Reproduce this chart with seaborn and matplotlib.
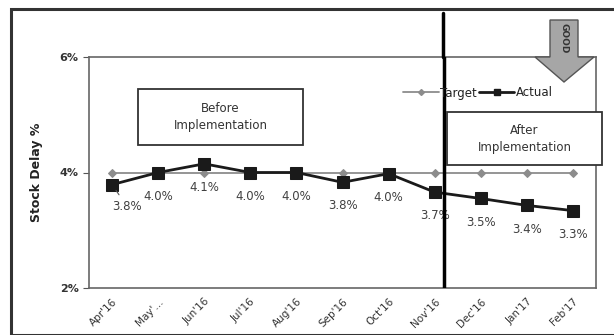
import matplotlib
matplotlib.use("Agg")
import matplotlib.pyplot as plt
import matplotlib.patches as mpatches
from matplotlib.lines import Line2D
import seaborn as sns
import pandas as pd

months = ["Apr'16", "May'…", "Jun'16", "Jul'16", "Aug'16", "Sep'16",
          "Oct'16", "Nov'16", "Dec'16", "Jan'17", "Feb'17"]
actual = [3.79, 4.0, 4.15, 4.0, 4.0, 3.83, 3.98, 3.66, 3.55, 3.43, 3.34]
actual_labels = ["3.8%", "4.0%", "4.1%", "4.0%", "4.0%", "3.8%",
                 "4.0%", "3.7%", "3.5%", "3.4%", "3.3%"]
target = [4.0] * 11
yticks = [2, 4, 6]
ytick_labels = ["2%", "4%", "6%"]

sns.set_style("white")
plt.rcParams['font.family'] = ['DejaVu Sans']

fig = plt.figure(figsize=(6.14, 3.35), dpi=100)
ax = fig.add_axes([89/614, 47/335, (596-89)/614, (288-57)/335])

df = pd.DataFrame({"x": list(range(len(months))), "Actual": actual, "Target": target})

sns.lineplot(data=df, x="x", y="Target", ax=ax, color="#8c8c8c", lw=1.3,
             marker="D", markersize=4, markeredgecolor="#8c8c8c", zorder=2)
sns.lineplot(data=df, x="x", y="Actual", ax=ax, color="#1a1a1a", lw=2,
             marker="s", markersize=8, markeredgecolor="#1a1a1a", zorder=3)

ax.set_xlim(-0.5, len(months) - 0.5)
ax.set_ylim(2, 6)
ax.set_yticks(yticks)
ax.set_yticklabels(ytick_labels, fontsize=8, fontweight="bold", color="#333333")
ax.set_xticks(range(len(months)))
ax.set_xticklabels(months, rotation=45, ha="right", rotation_mode="anchor",
                   fontsize=7.5, color="#333333")
ax.set_xticks([i - 0.5 for i in range(len(months) + 1)], minor=True)
ax.tick_params(axis="x", which="major", length=0, pad=6)
ax.tick_params(axis="x", which="minor", length=4, color="#555555", direction="out")
ax.tick_params(axis="y", length=4, color="#555555", direction="out", left=True)
ax.set_xlabel("")
ax.set_ylabel("Stock Delay %", fontsize=9, fontweight="bold", color="#222222", labelpad=12)
for s in ax.spines.values():
    s.set_color("#666666")
    s.set_linewidth(1.2)

# data labels
for i, (v, lab) in enumerate(zip(actual, actual_labels)):
    if i == 0:
        ax.annotate(lab, (i, v), xytext=(11, -16), textcoords="offset points",
                    ha="center", va="center", fontsize=8.5, color="#404040",
                    arrowprops=dict(arrowstyle="-", color="#555555", lw=0.8,
                                    shrinkA=2, shrinkB=5))
    else:
        ax.annotate(lab, (i, v), xytext=(0, -17), textcoords="offset points",
                    ha="center", va="center", fontsize=8.5, color="#404040")

fy = lambda y: (335 - y) / 335
fx = lambda x: x / 614

# vertical divider
ax.axvline(7.2, ymin=0, ymax=1.0, color="black", lw=2.5, zorder=5)
fig.add_artist(Line2D([fx(443), fx(443)], [fy(57), fy(13)], color="black", lw=2.5))

# annotation boxes (figure pixel placement)
def box(x0, y0, x1, y1, text):
    fig.patches.append(mpatches.Rectangle((fx(x0), fy(y1)), fx(x1) - fx(x0),
                                          fy(y0) - fy(y1), fc="white", ec="#333333",
                                          lw=1.3, transform=fig.transFigure,
                                          figure=fig, zorder=6))
    fig.text(fx((x0 + x1) / 2), fy((y0 + y1) / 2), text, ha="center", va="center",
             fontsize=8.5, color="#333333", linespacing=1.4, zorder=7)

box(138, 89, 303, 145, "Before\nImplementation")
box(447, 112, 602, 165, "After\nImplementation")

# legend
handles = [Line2D([0], [0], color="#8c8c8c", lw=1.3, marker="D", markersize=3),
           Line2D([0], [0], color="#1a1a1a", lw=2, marker="s", markersize=5)]
leg = fig.legend(handles, ["Target", "Actual"], loc="center",
                 bbox_to_anchor=(fx(478), fy(93)), ncol=2, frameon=False,
                 fontsize=8.5, handlelength=3, columnspacing=0.2, handletextpad=0.1)
for t in leg.get_texts():
    t.set_color("#222222")

# GOOD arrow
arrow_pts = [(fx(550), fy(20)), (fx(578), fy(20)), (fx(578), fy(57)),
             (fx(594), fy(57)), (fx(564), fy(82)), (fx(535), fy(57)),
             (fx(550), fy(57))]
fig.patches.append(mpatches.Polygon(arrow_pts, closed=True, fc="#a6a6a6",
                                    ec="#555555", lw=1, transform=fig.transFigure,
                                    figure=fig))
fig.text(fx(564), fy(38), "GOOD", rotation=-90, ha="center", va="center",
         fontsize=6.5, color="#333333", fontweight="bold")

# outer border
fig.patches.append(mpatches.Rectangle((fx(11), 0), 1.2, fy(9), fill=False,
                                      ec="#333333", lw=2.2,
                                      transform=fig.transFigure, figure=fig))

fig.savefig("out.png", dpi=100)
